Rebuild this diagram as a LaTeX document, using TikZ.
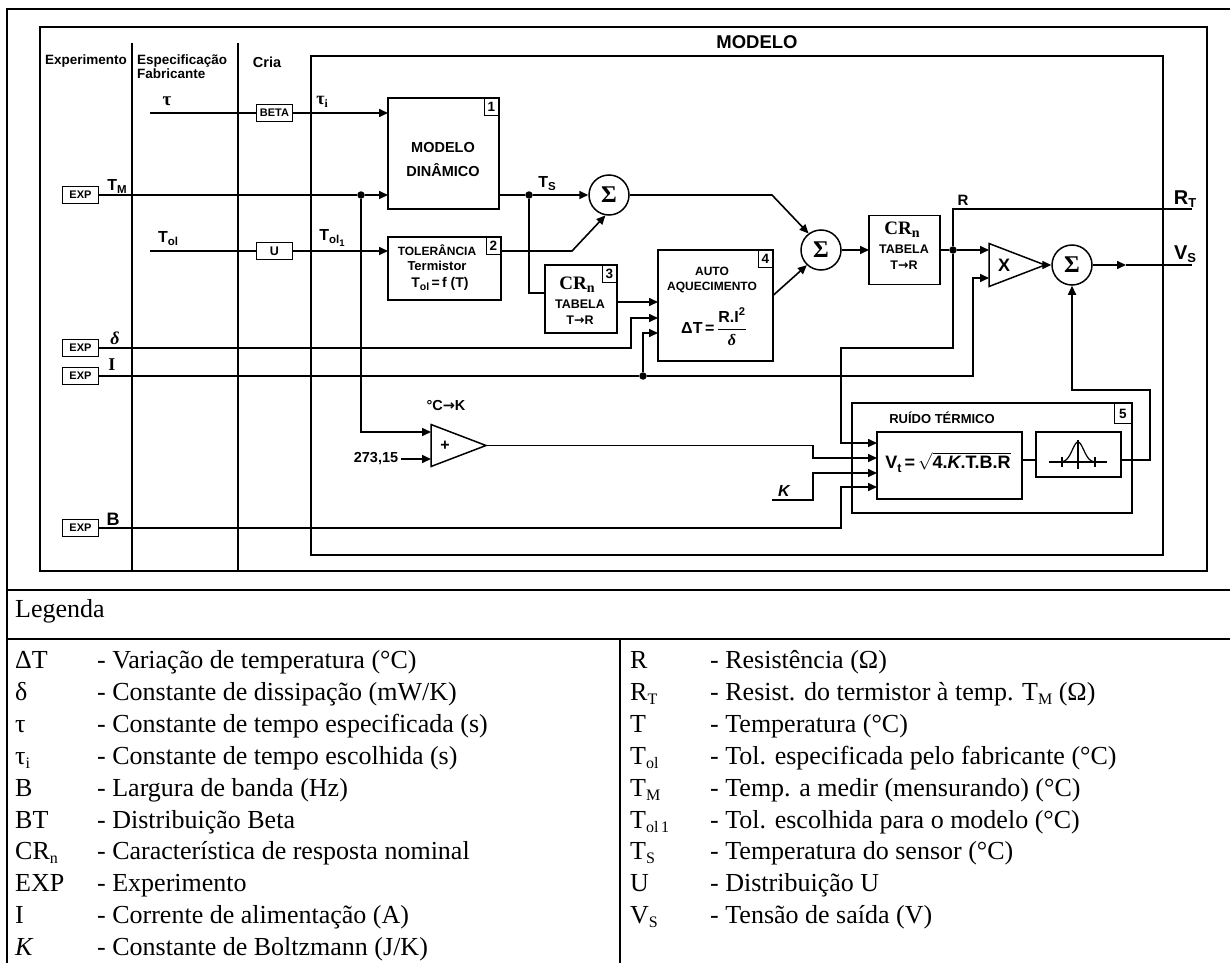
\documentclass[tikz,border=0pt]{standalone}
\usepackage{fontspec}
\setmainfont{Liberation Serif}
\newfontfamily\dsans{Liberation Sans}
\newfontfamily\dserif{Liberation Serif}
\newfontfamily\djv{DejaVu Sans}
\usetikzlibrary{arrows.meta,shapes.geometric,calc}
\newcommand{\fs}[1]{\fontsize{#1}{#1}\selectfont}
\newcommand{\lsb}[3]{\raisebox{-#1pt}{\fs{#2}#3}}
\newcommand{\rarr}{{\djv\bfseries →}}
\tikzset{
  wire/.style={line width=1.6pt},
  arr/.style={line width=1.6pt,-{Triangle[length=9pt,width=8pt]}},
  frm/.style={line width=2.2pt},
  blk/.style={draw,line width=1.5pt,inner sep=0pt,outer sep=0pt},
  bt/.style={inner sep=0pt,align=center},
  smb/.style={draw,line width=1.4pt,minimum width=36pt,minimum height=17pt,inner sep=0pt,font=\dsans\bfseries\fs{11}},
  numbox/.style={draw,line width=1.4pt,minimum width=14pt,minimum height=17pt,inner sep=0pt,fill=white,font=\dsans\bfseries\fs{13.5}},
  sumn/.style={draw,circle,line width=1.5pt,minimum size=40pt,inner sep=0pt,font=\dserif\bfseries\fs{24}},
  tri/.style={draw,line width=1.5pt,shape=isosceles triangle,isosceles triangle stretches,inner sep=0pt,outer sep=0pt,anchor=lower side},
  jdot/.style={circle,fill,inner sep=0pt,minimum size=7.5pt},
  lbl/.style={inner sep=0pt,font=\dsans\bfseries\fs{16}},
  hd/.style={inner sep=0pt,font=\dsans\bfseries\fs{13.5}},
  leg/.style={inner sep=0pt,anchor=base west,font=\fs{26}}
}
\begin{document}
\begin{tikzpicture}[x=1pt,y=-1pt]
\useasboundingbox (0,0) rectangle (1230,963);
\fill[white] (0,0) rectangle (1230,963);

% frames
\draw[frm] (1230,9) -- (7,9) -- (7,963);
\draw[frm] (40,27) rectangle (1207,571);
\draw[frm] (132,43) -- (132,571);
\draw[frm] (238,43) -- (238,571);
\draw[frm,line width=2.8pt] (311,56) rectangle (1163,555);
\draw[frm] (7,590) -- (1230,590);
\draw[frm] (7,639) -- (1230,639);
\draw[frm] (620,639) -- (620,963);

% headers
\node[hd] (hexp) at (86,61) {Experimento};
\node[hd,anchor=west,align=left] (hesp) at (137,67) {Especificação\\[0.5pt]Fabricante};
\node[hd,font=\dsans\bfseries\fs{14.5}] (hcria) at (267,62) {Cria};
\node[hd,font=\dsans\bfseries\fs{18.5}] (hmod) at (757,42) {MODELO};

% blocks
\node[blk,minimum width=111pt,minimum height=111pt] (b1) at (443.5,153.5) {};
\node[bt,font=\dsans\bfseries\fs{14.5}] (b1t) at (443,160) {MODELO\\[9.5pt]DINÂMICO};
\node[numbox,anchor=north east] (b1n) at (b1.north east) {1};

\node[blk,minimum width=113pt,minimum height=63pt] (b2) at (444.5,268.5) {};
\node[bt,font=\dsans\bfseries\fs{12}] (b2t1) at (437,250) {TOLERÂNCIA};
\node[bt,font=\dsans\bfseries\fs{13}] (b2t2) at (437,266) {Termistor};
\node[bt,font=\dsans\bfseries\fs{14}] (b2t3) at (440,284) {T\lsb{3}{10.5}{ol}\,=\,f (T)};
\node[numbox,anchor=north east] (b2n) at (b2.north east) {2};

\node[blk,minimum width=72pt,minimum height=68pt] (b3) at (581,299) {};
\node[bt,font=\dserif\bfseries\fs{19}] (b3t1) at (577,285) {CR\lsb{3}{14}{n}};
\node[bt,font=\dsans\bfseries\fs{12.5}] (b3t2) at (580,304) {TABELA};
\node[bt,font=\dsans\bfseries\fs{12.5}] (b3t3) at (580,320) {T\rarr R};
\node[numbox,anchor=north east] (b3n) at (b3.north east) {3};

\node[blk,minimum width=115pt,minimum height=111pt] (b4) at (715.5,305.5) {};
\node[bt,font=\dsans\bfseries\fs{12}] (b4t1) at (712,271) {AUTO};
\node[bt,font=\dsans\bfseries\fs{12}] (b4t2) at (712,287) {AQUECIMENTO};
\node[bt,font=\dsans\bfseries\fs{16}] (b4t3) at (714,327) {ΔT\,=\,$\displaystyle\frac{\mbox{R.I\textsuperscript{2}}}{\mbox{\dserif\itshape δ}}$};
\node[numbox,anchor=north east] (b4n) at (b4.north east) {4};

\node[blk,minimum width=71pt,minimum height=69pt] (cr2) at (904.5,250) {};
\node[bt,font=\dserif\bfseries\fs{19}] (cr2t1) at (902,230) {CR\lsb{3}{14}{n}};
\node[bt,font=\dsans\bfseries\fs{12.5}] (cr2t2) at (904,249) {TABELA};
\node[bt,font=\dsans\bfseries\fs{12.5}] (cr2t3) at (904,265) {T\rarr R};

\node[blk,line width=1.3pt,minimum width=280pt,minimum height=110pt] (rt5) at (992,458) {};
\node[numbox,anchor=north east,minimum width=17pt,minimum height=20pt] (rt5n) at (rt5.north east) {5};
\node[bt,font=\dsans\bfseries\fs{13}] (rtt) at (942,418) {RUÍDO TÉRMICO};
\node[blk,minimum width=145pt,minimum height=67pt] (vt) at (949.5,465.5) {};
\node[bt,font=\dsans\bfseries\fs{18}] (vtt) at (948,462) {V\lsb{4}{12.5}{t}\,=\,$\sqrt{\mbox{4.\textit{K}.T.B.R}}$};
\node[blk,minimum width=85pt,minimum height=45pt] (gs) at (1078.5,454.5) {};
\draw[line width=1.1pt] (1049,462) -- (1107,462);
\draw[line width=1.1pt] (1078,440) -- (1078,469);
\draw[line width=1.1pt] (1062,457) -- (1062,467) (1095,457) -- (1095,467);
\draw[line width=1.2pt] plot[domain=-20:20,samples=41] ({1078+\x},{462-20*exp(0-(\x/8)*(\x/8))});

% small boxes
\node[smb] (beta) at (274.5,113) {BETA};
\node[smb,font=\dsans\bfseries\fs{12.5}] (unode) at (274.5,251) {U};
\node[smb] (e1) at (80.5,195) {EXP};
\node[smb] (e2) at (80.5,348) {EXP};
\node[smb] (e3) at (80.5,376) {EXP};
\node[smb] (e4) at (80.5,528) {EXP};

% sums
\node[sumn] (s1) at (609,195) {Σ};
\node[sumn] (s2) at (821,250) {Σ};
\node[sumn] (s3) at (1072,265) {Σ};

% triangles
\node[tri,minimum width=43pt,minimum height=56pt] (X) at (989,265) {};
\node[bt,font=\dsans\bfseries\fs{18}] (Xt) at (1004,265) {X};
\node[tri,minimum width=42pt,minimum height=55pt] (CK) at (431,445.5) {};
\node[bt,font=\dsans\bfseries\fs{16}] (CKt) at (445,446) {+};
\node[bt,font=\dsans\bfseries\fs{14.5}] (CKl) at (446,406) {°C\rarr K};

% dots
\node[jdot] (tmdot) at (361,195) {};
\node[jdot] (tsdot) at (529,195) {};
\node[jdot] (idot) at (643,376) {};
\node[jdot] (rdot) at (953,250) {};

% labels
\node[lbl,font=\dserif\bfseries\fs{19}] (ltau) at (167,101) {τ};
\node[lbl,font=\dserif\bfseries\fs{18}] (ltaui) at (322,102) {τ\lsb{3}{11.5}{i}};
\node[lbl] (ltm) at (117,186) {T\lsb{3}{11.5}{M}};
\node[lbl] (ltol) at (168,239) {T\lsb{3}{11.5}{ol}};
\node[lbl] (ltol1) at (332,238) {T\lsb{3}{11.5}{ol\lsb{3}{9.5}{1}}};
\node[lbl] (lts) at (547,184) {T\lsb{3}{11.5}{S}};
\node[lbl,font=\dserif\bfseries\itshape\fs{18}] (ldel) at (115,338) {δ};
\node[lbl,font=\dserif\bfseries\fs{18}] (li) at (112,365) {I};
\node[lbl,font=\dsans\bfseries\fs{18}] (lb) at (113,519) {B};
\node[lbl,font=\dsans\bfseries\fs{14.5},inner sep=3pt] (n273) at (376,459) {273,15};
\node[lbl,font=\dsans\bfseries\itshape\fs{16}] (lk) at (784,491) {K};
\node[lbl,font=\dsans\bfseries\fs{15}] (lr) at (963,200) {R};
\node[lbl,font=\dsans\bfseries\fs{20}] (lrt) at (1185,199) {R\lsb{3}{13}{T}};
\node[lbl,font=\dsans\bfseries\fs{20}] (lvs) at (1185,254) {V\lsb{3}{13}{S}};

% coordinates
\coordinate (ctau) at (150,113);
\coordinate (ctol) at (150,251);
\coordinate (k1) at (572,251);
\coordinate (k2) at (772,195);
\coordinate (rtend) at (1192,209);
\coordinate (k4) at (841,348);
\coordinate (y443) at (0,443);
\coordinate (kd) at (631,318);
\coordinate (ki) at (973,278);
\coordinate (ki2) at (643,333);
\coordinate (y432) at (0,432);
\coordinate (kck) at (813,458);
\coordinate (kk0) at (772,500);
\coordinate (kk) at (813,473);
\coordinate (kb) at (841,487);
\coordinate (yg) at (0,460);
\coordinate (kg) at (1150,390);
\coordinate (vsm) at (1126,265);
\coordinate (vsend) at (1192,265);
\coordinate (b3o) at ($(b3.east)+(0,3)$);
\coordinate (b3i) at ($(b3.west)+(0,-6)$);
\coordinate (b2o) at ($(b2.east)+(0,-17.5)$);
\coordinate (b4o) at ($(b4.east)+(0,-10)$);
\coordinate (b1o) at (b1.east |- tsdot);

% connectors
\draw[wire] (ctau) -- (beta);
\draw[arr] (beta) -- (beta -| b1.west);
\draw[wire] (e1) -- (tmdot);
\draw[arr] (tmdot) -- (tmdot -| b1.west);
\draw[arr] (tmdot) |- (CK.lower side |- y432);
\draw[wire] (ctol) -- (unode);
\draw[arr] (unode) -- (unode -| b2.west);
\draw[wire] (b1o) -- (tsdot);
\draw[arr] (tsdot) -- (s1);
\draw[wire] (tsdot) |- (b3i);
\draw[arr] (b2o) -- (k1) -- (s1.-100);
\draw[arr] (s1) -- (k2) -- (s2.127);
\draw[arr] (b4o) -- (s2.-133);
\draw[arr] (s2) -- (cr2);
\draw[wire] (cr2) -- (rdot);
\draw[wire] (rdot) |- (rtend);
\draw[arr] (rdot) -- (rdot -| X.lower side);
\draw[arr] (rdot) |- (k4) |- (vt.west |- y443);
\draw[arr] (b3o) -- (b3o -| b4.west);
\draw[arr] (e2) -| (kd) -- (kd -| b4.west);
\draw[wire] (e3) -- (idot);
\draw[arr] (idot) -- (ki2) -- (ki2 -| b4.west);
\draw[arr] (idot) -| (ki) -- (ki -| X.lower side);
\draw[arr] (n273) -- (n273 -| CK.lower side);
\draw[arr] (CK.apex) -| (kck) -- (kck -| vt.west);
\draw[arr] (kk0) -| (kk) -- (kk -| vt.west);
\draw[arr] (e4) -| (kb) -- (kb -| vt.west);
\draw[wire] (vt.east |- yg) -- (gs.west |- yg);
\draw[arr] (gs.east |- yg) -| (kg) -| (s3.south);
\draw[arr] (X.apex) -- (s3);
\draw[arr] (s3) -- (vsm);
\draw[wire] (vsm) -- (vsend);

% legend
\node[leg] (lg0) at (15,617) {Legenda};
\node[leg] (la1) at (15,668) {\makebox[82pt][l]{ΔT}- Variação de temperatura (°C)};
\node[leg] (la2) at (15,700) {\makebox[82pt][l]{δ}- Constante de dissipação (mW/K)};
\node[leg] (la3) at (15,732) {\makebox[82pt][l]{τ}- Constante de tempo especificada (s)};
\node[leg] (la4) at (15,764) {\makebox[82pt][l]{τ\lsb{4}{16}{i}}- Constante de tempo escolhida (s)};
\node[leg] (la5) at (15,796) {\makebox[82pt][l]{B}- Largura de banda (Hz)};
\node[leg] (la6) at (15,828) {\makebox[82pt][l]{BT}- Distribuição Beta};
\node[leg] (la7) at (15,859) {\makebox[82pt][l]{CR\lsb{4}{16}{n}}- Característica de resposta nominal};
\node[leg] (la8) at (15,891) {\makebox[82pt][l]{EXP}- Experimento};
\node[leg] (la9) at (15,923) {\makebox[82pt][l]{I}- Corrente de alimentação (A)};
\node[leg] (la10) at (15,955) {\makebox[82pt][l]{\textit{K}}- Constante de Boltzmann (J/K)};

\node[leg] (lb1) at (630,668) {\makebox[80pt][l]{R}- Resistência (Ω)};
\node[leg] (lb2) at (630,700) {\makebox[80pt][l]{R\lsb{4}{16}{T}}- Resist. do termistor à temp. T\lsb{4}{16}{M} (Ω)};
\node[leg] (lb3) at (630,732) {\makebox[80pt][l]{T}- Temperatura (°C)};
\node[leg] (lb4) at (630,764) {\makebox[80pt][l]{T\lsb{4}{16}{ol}}- Tol. especificada pelo fabricante (°C)};
\node[leg] (lb5) at (630,796) {\makebox[80pt][l]{T\lsb{4}{16}{M}}- Temp. a medir (mensurando) (°C)};
\node[leg] (lb6) at (630,828) {\makebox[80pt][l]{T\lsb{4}{16}{ol\,1}}- Tol. escolhida para o modelo (°C)};
\node[leg] (lb7) at (630,859) {\makebox[80pt][l]{T\lsb{4}{16}{S}}- Temperatura do sensor (°C)};
\node[leg] (lb8) at (630,891) {\makebox[80pt][l]{U}- Distribuição U};
\node[leg] (lb9) at (630,923) {\makebox[80pt][l]{V\lsb{4}{16}{S}}- Tensão de saída (V)};
\end{tikzpicture}
\end{document}
